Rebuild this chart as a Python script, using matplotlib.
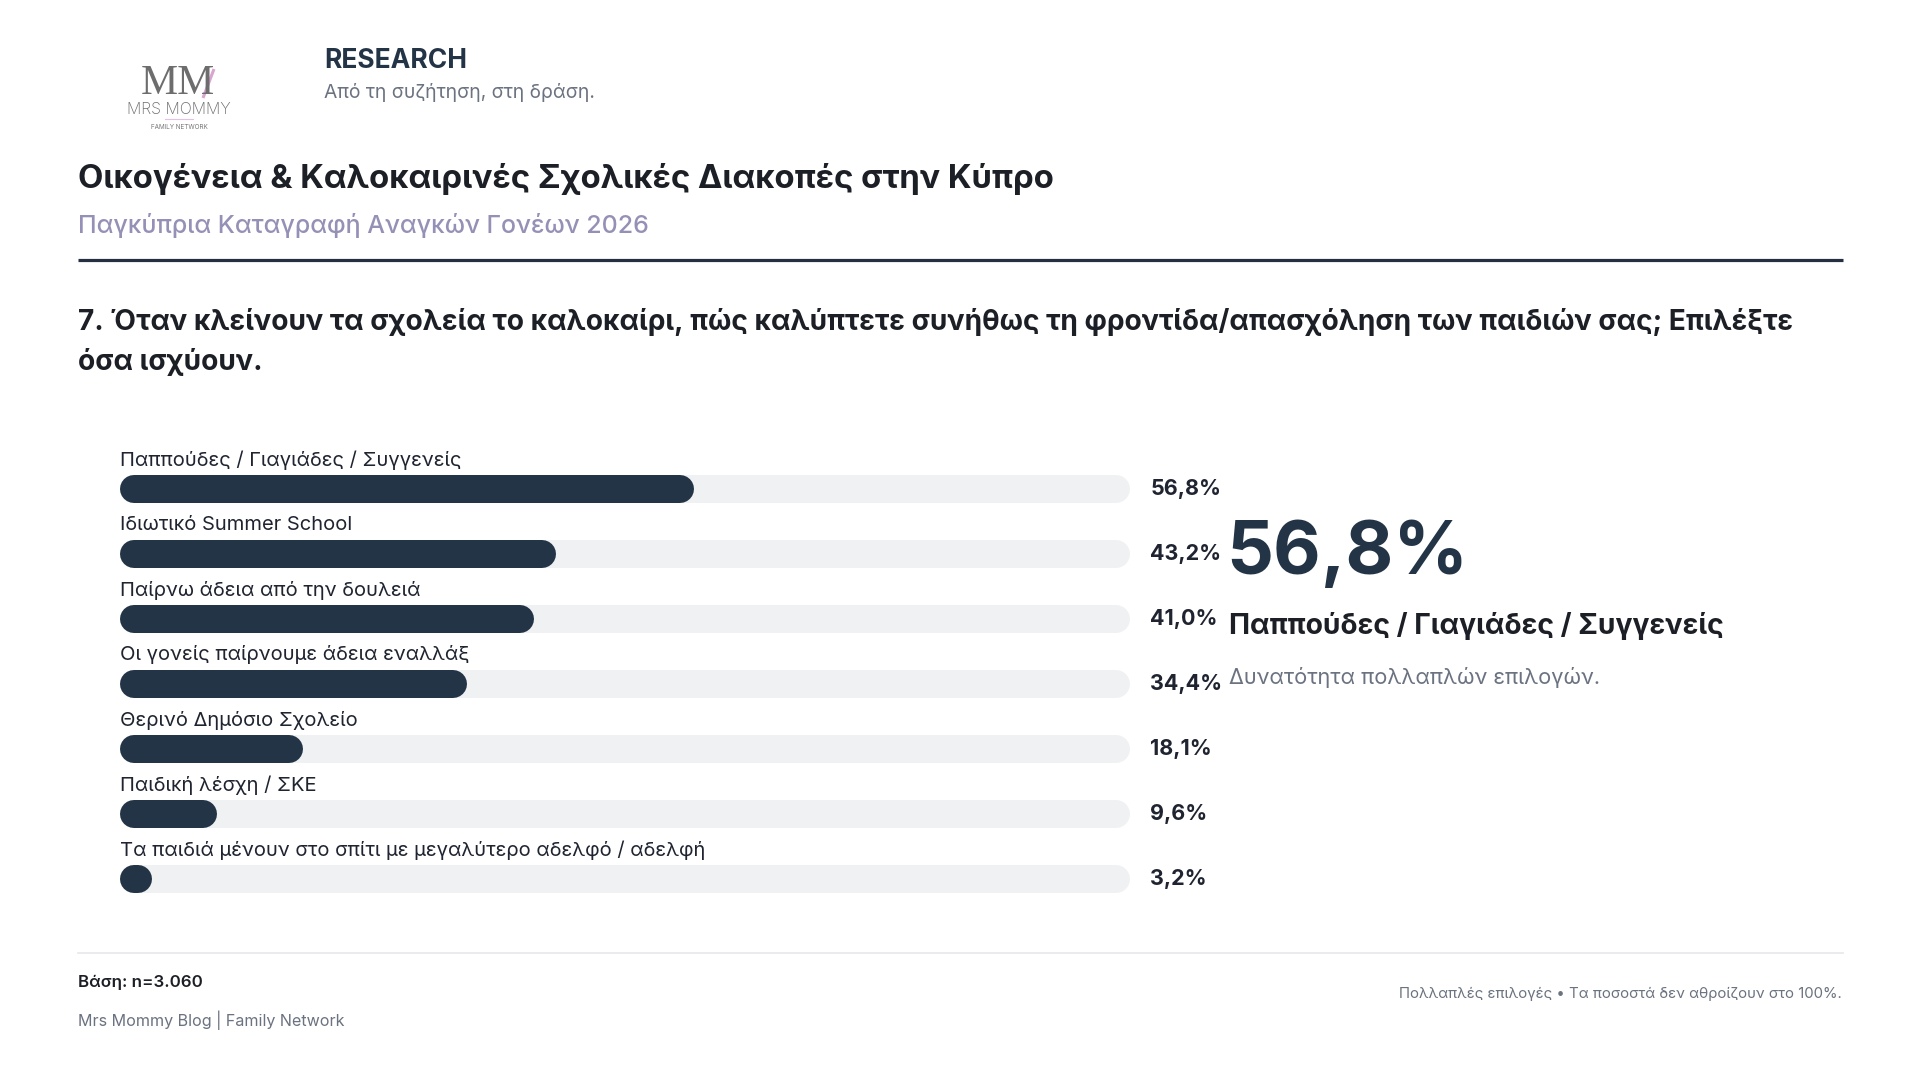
import matplotlib
matplotlib.use("Agg")
import matplotlib.pyplot as plt

# ---- data ----
categories = [
    "Παππούδες / Γιαγιάδες / Συγγενείς",
    "Ιδιωτικό Summer School",
    "Παίρνω άδεια από την δουλειά",
    "Οι γονείς παίρνουμε άδεια εναλλάξ",
    "Θερινό Δημόσιο Σχολείο",
    "Παιδική λέσχη / ΣΚΕ",
    "Τα παιδιά μένουν στο σπίτι με μεγαλύτερο αδελφό / αδελφή",
]
values = [56.8, 43.2, 41.0, 34.4, 18.1, 9.6, 3.2]
value_labels = ["56,8%", "43,2%", "41,0%", "34,4%", "18,1%", "9,6%", "3,2%"]

brand = "RESEARCH"
tagline = "Από τη συζήτηση, στη δράση."
title = "Οικογένεια & Καλοκαιρινές Σχολικές Διακοπές στην Κύπρο"
subtitle = "Παγκύπρια Καταγραφή Αναγκών Γονέων 2026"
question_lines = [
    "7. Όταν κλείνουν τα σχολεία το καλοκαίρι, πώς καλύπτετε συνήθως τη φροντίδα/απασχόληση των παιδιών σας; Επιλέξτε",
    "όσα ισχύουν.",
]
highlight_value = "56,8%"
highlight_label = "Παππούδες / Γιαγιάδες / Συγγενείς"
highlight_note = "Δυνατότητα πολλαπλών επιλογών."
footer_base = "Βάση: n=3.060"
footer_source = "Mrs Mommy Blog | Family Network"
footer_note = "Πολλαπλές επιλογές • Τα ποσοστά δεν αθροίζουν στο 100%."

# ---- style ----
FONT = ["Inter", "DejaVu Sans"]
plt.rcParams["font.family"] = FONT
NAVY = "#243447"
TRACK = "#f0f1f3"
DARK = "#1c1f26"
TEXT = "#1f2430"
GREY = "#6b7280"
PURPLE = "#9591b6"

W, H = 1920, 1080
fig = plt.figure(figsize=(W / 100, H / 100), dpi=100)
fig.patch.set_facecolor("white")

# overlay axes in pixel coordinates for text / rules
ov = fig.add_axes([0, 0, 1, 1])
ov.set_xlim(0, W)
ov.set_ylim(H, 0)
ov.axis("off")

# logo (text approximation)
ov.text(178, 84, "MM", fontsize=30,
        family=["DejaVu Serif Condensed", "Liberation Serif", "DejaVu Serif"],
        color="#6d6d6d", ha="center", va="center")
ov.plot([203, 214], [98, 69], color="#d9a6cf", lw=2.2, solid_capstyle="butt")
ov.text(179, 110, "MRS MOMMY", fontsize=11.5, color="#6d6d6d", ha="center",
        va="center", fontweight="light")
ov.plot([165, 193], [119, 119], color="#e7bfe0", lw=0.8)
ov.text(179, 127, "FAMILY NETWORK", fontsize=4.6, color="#777777", ha="center",
        va="center")

# header
ov.text(324, 61, brand, fontsize=19, fontweight="bold", color="#243447",
        ha="left", va="center")
ov.text(324, 93, tagline, fontsize=13.9, color=GREY, ha="left", va="center")

ov.text(78, 179, title, fontsize=23.7, fontweight="bold", color=DARK,
        ha="left", va="center")
ov.text(78, 225, subtitle, fontsize=18, fontweight="medium", color=PURPLE,
        ha="left", va="center")
ov.plot([78, 1843], [260, 260], color="#243042", lw=2.3, solid_capstyle="butt")

for i, line in enumerate(question_lines):
    ov.text(78, 322 + 40 * i, line, fontsize=20.2, fontweight="bold", color=DARK,
            ha="left", va="center")

# ---- bars ----
BAR_L, BAR_W = 120, 1010
Y0, PITCH = 489, 65
n = len(categories)
top_px = Y0 - 0.5 * PITCH
bot_px = Y0 + (n - 0.5) * PITCH
bx = fig.add_axes([BAR_L / W, 1 - bot_px / H, BAR_W / W, (bot_px - top_px) / H])
bx.set_xlim(0, 100)
bx.set_ylim(n - 0.5, -0.5)
bx.axis("off")

bar_px = 28
lw_pt = bar_px * 0.72
r = (bar_px / 2) / (BAR_W / 100.0)  # cap radius in data units
for i, (cat, v, lab) in enumerate(zip(categories, values, value_labels)):
    bx.plot([r, 100 - r], [i, i], color=TRACK, lw=lw_pt, solid_capstyle="round")
    x1 = max(v - r, r + 0.01)
    bx.plot([r, x1], [i, i], color=NAVY, lw=lw_pt, solid_capstyle="round")
    bx.text(0, i - 29 / PITCH, cat, fontsize=14.5, color=TEXT, ha="left",
            va="center", clip_on=False)
    bx.text(102, i, lab, fontsize=15.5, fontweight="bold", color=TEXT,
            ha="left", va="center", clip_on=False)

# highlight
ov.text(1226, 555, highlight_value, fontsize=53, fontweight="bold", color=NAVY,
        ha="left", va="center")
ov.text(1229, 626, highlight_label, fontsize=20.3, fontweight="bold", color=DARK,
        ha="left", va="center")
ov.text(1229, 678, highlight_note, fontsize=15.7, color=GREY, ha="left",
        va="center")

# footer
ov.plot([78, 1843], [953, 953], color="#e6e7eb", lw=1.2)
ov.text(78, 982, footer_base, fontsize=12.2, fontweight="semibold", color=DARK,
        ha="left", va="center")
ov.text(78, 1020, footer_source, fontsize=11.6, color=GREY, ha="left",
        va="center")
ov.text(1842, 994, footer_note, fontsize=10.75, color=GREY, ha="right",
        va="center")

fig.savefig("out.png", dpi=100, facecolor="white")
